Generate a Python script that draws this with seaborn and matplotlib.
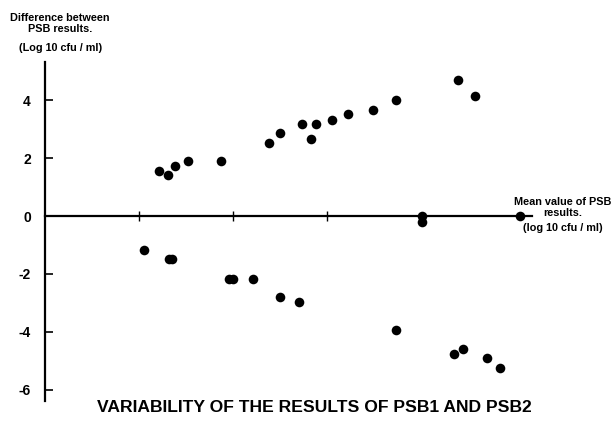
import numpy as np
import pandas as pd
import matplotlib
matplotlib.use('Agg')
import matplotlib.pyplot as plt
import seaborn as sns

# mean value of PSB results (log10 cfu/ml) and the difference between them
mean_upper = [1.22, 1.31, 1.39, 1.52, 1.87, 2.38, 2.50, 2.74, 2.88, 2.83, 3.05, 3.23, 3.49, 3.74, 4.40, 4.58]
diff_upper = [1.56, 1.41, 1.72, 1.89, 1.89, 2.52, 2.85, 3.18, 3.18, 2.67, 3.33, 3.51, 3.67, 4.00, 4.69, 4.14]

mean_zero = [4.01, 4.01, 5.05]
diff_zero = [0.0, -0.2, 0.0]

mean_lower = [1.05, 1.32, 1.35, 1.96, 2.00, 2.22, 2.50, 2.70, 3.74, 4.35, 4.45, 4.70, 4.84]
diff_lower = [-1.18, -1.49, -1.49, -2.16, -2.16, -2.16, -2.79, -2.97, -3.94, -4.77, -4.59, -4.91, -5.24]

y_ticks = [-6, -4, -2, 0, 2, 4]
x_ticks = [1, 2, 3]

df = pd.DataFrame({
    'mean': mean_upper + mean_zero + mean_lower,
    'diff': diff_upper + diff_zero + diff_lower,
})

sns.set_style('white')
plt.rcParams['font.family'] = ['Liberation Sans', 'DejaVu Sans']
plt.rcParams['text.color'] = 'black'
plt.rcParams['ytick.color'] = 'black'
plt.rcParams['xtick.color'] = 'black'

fig = plt.figure(figsize=(6.14, 4.32), dpi=100)
ax = fig.add_axes([0.073, 0.072, 0.793, 0.784])

sns.scatterplot(data=df, x='mean', y='diff', color='black', s=48, edgecolor='black', linewidth=0, ax=ax, zorder=3)

ax.set_xlim(0, 5.18)
ax.set_ylim(-6.38, 5.31)

# x axis sits on y = 0
ax.spines['right'].set_visible(False)
ax.spines['top'].set_visible(False)
ax.spines['bottom'].set_position(('data', 0))
ax.spines['left'].set_linewidth(1.6)
ax.spines['bottom'].set_linewidth(1.6)
ax.spines['left'].set_color('black')
ax.spines['bottom'].set_color('black')

ax.set_yticks(y_ticks)
ax.set_yticklabels([str(t) for t in y_ticks], fontweight='bold', fontsize=10)
ax.set_xticks(x_ticks)
ax.set_xticklabels([])
ax.tick_params(axis='y', direction='in', length=6, width=1.2, pad=10, left=True)
ax.tick_params(axis='x', direction='inout', length=7, width=1.0, bottom=True)
ax.set_xlabel('')
ax.set_ylabel('')

fig.text(0.098, 0.946, 'Difference between\nPSB results.', ha='center', va='center',
         fontsize=7.8, fontweight='bold', linespacing=1.15)
fig.text(0.098, 0.889, '(Log 10 cfu / ml)', ha='center', va='center', fontsize=7.8, fontweight='bold')

fig.text(0.917, 0.520, 'Mean value of PSB\nresults.', ha='center', va='center',
         fontsize=7.8, fontweight='bold', linespacing=1.1)
fig.text(0.917, 0.472, '(log 10 cfu / ml)', ha='center', va='center', fontsize=7.8, fontweight='bold')

fig.text(0.512, 0.056, 'VARIABILITY OF THE RESULTS OF PSB1 AND PSB2', ha='center', va='center',
         fontsize=12.6, fontweight='bold')

fig.savefig('out.png', dpi=100)
